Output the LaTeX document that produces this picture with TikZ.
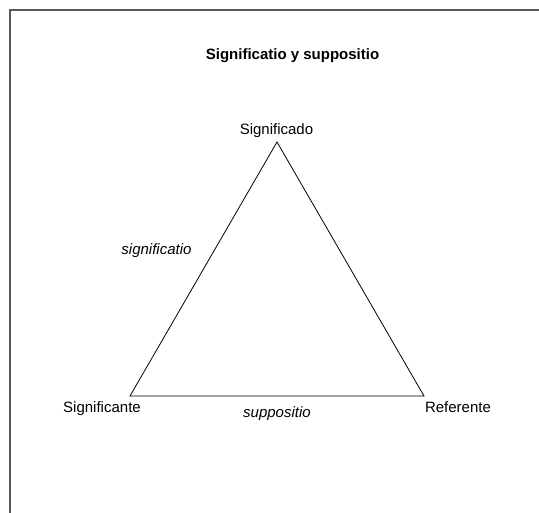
\documentclass[tikz,border=0pt]{standalone}
\usepackage{fontspec}
\setmainfont{Liberation Sans}
\begin{document}
\begin{tikzpicture}[x=1pt, y=-1pt, every node/.style={font=\fontsize{15}{18}\selectfont, inner sep=0pt, anchor=base}]
  \useasboundingbox (0,0) rectangle (539,513);
  \coordinate (FB) at (10.3,513);
  \coordinate (FC) at (10.3,10.3);
  \coordinate (FR) at (539,10.3);
  \coordinate (Sdo) at (277,142);
  \coordinate (Ste) at (130,396);
  \coordinate (Ref) at (424,396);
  \draw[line width=1.8pt, black!65] (FB)--(FC)--(FR);
  \draw[line width=0.8pt] (Sdo)--(Ste)--(Ref)--cycle;
  \node[font=\fontsize{15}{18}\selectfont\bfseries] (titulo) at (292.5,60) {Significatio y suppositio};
  \node (significado) at (276.5,135) {Significado};
  \node (significante) at (102,413) {Significante};
  \node (referente) at (458,413) {Referente};
  \node[font=\fontsize{15}{18}\selectfont\itshape] (significatio) at (156.5,255) {significatio};
  \node[font=\fontsize{15}{18}\selectfont\itshape] (suppositio) at (277,418) {suppositio};
\end{tikzpicture}
\end{document}
